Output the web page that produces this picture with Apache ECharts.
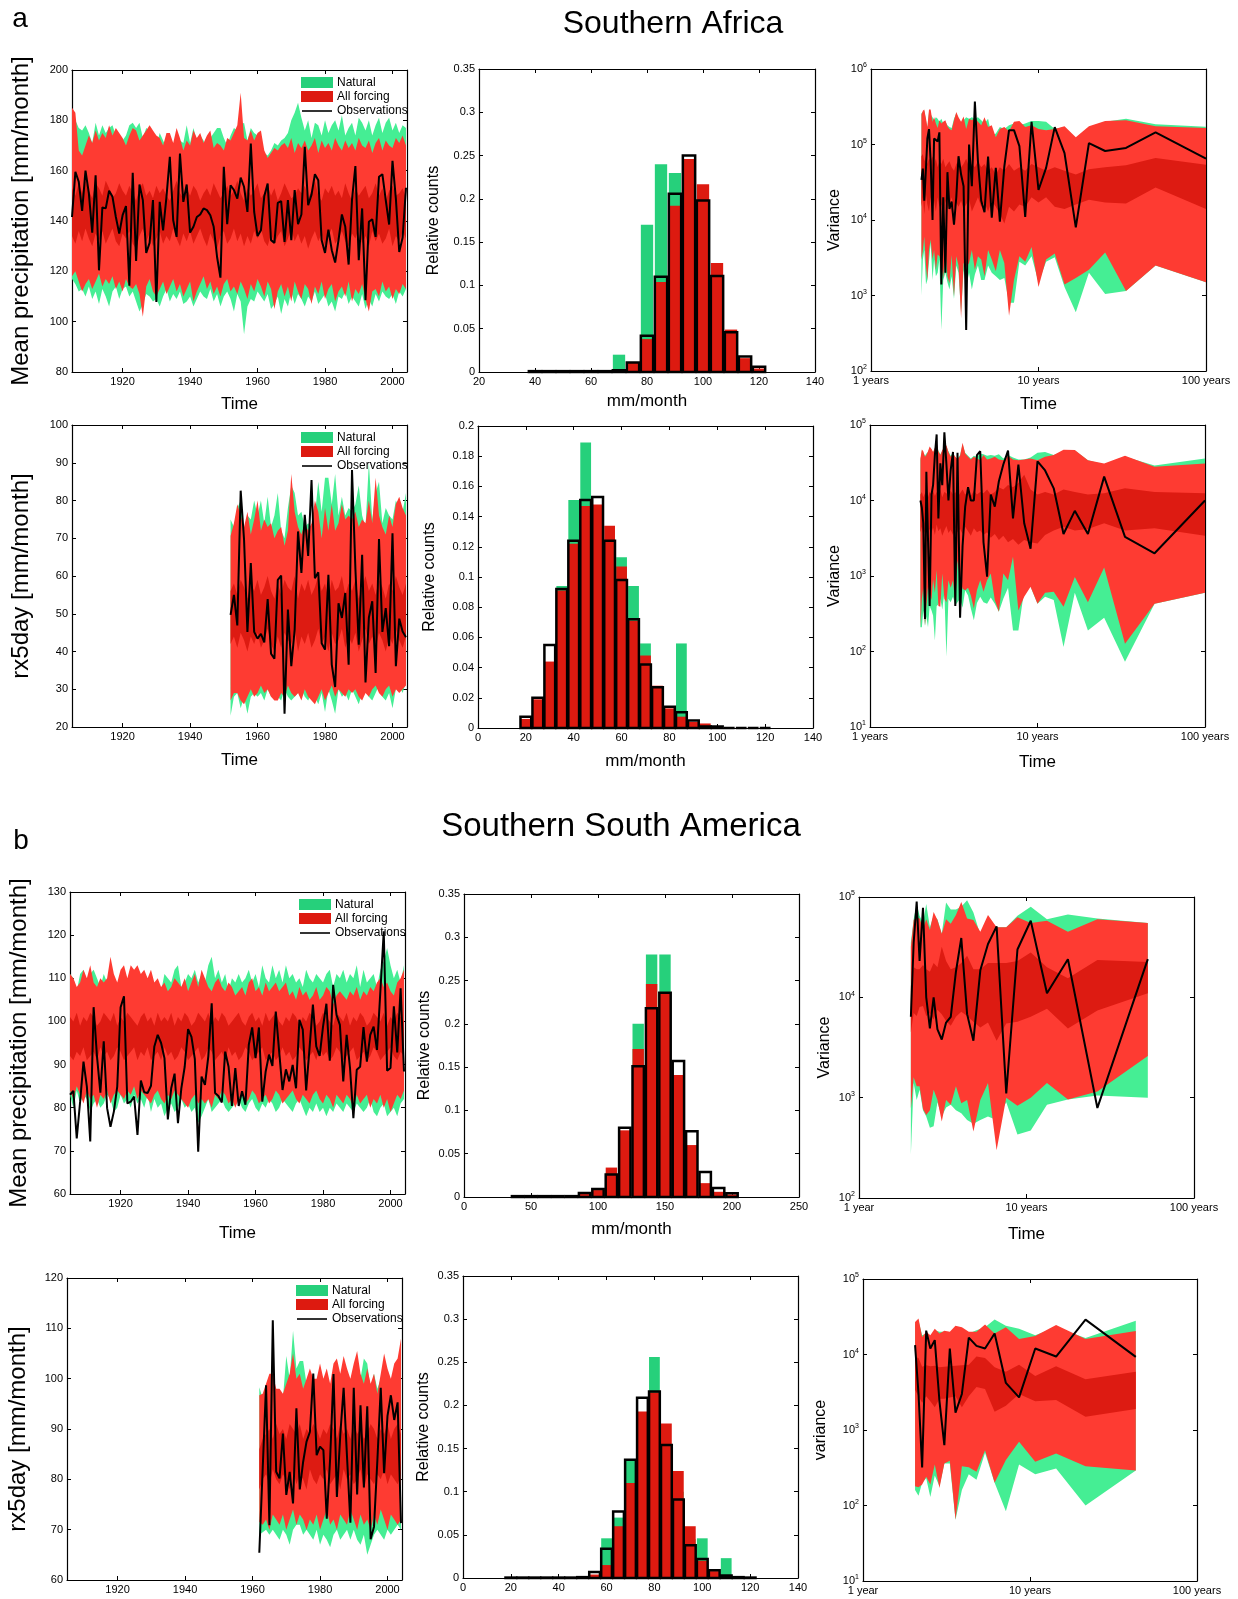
<!DOCTYPE html>
<html>
<head>
<meta charset="utf-8">
<script src="https://cdn.jsdelivr.net/npm/echarts@6/dist/echarts.min.js"></script>
<style>
  html, body { margin: 0; padding: 0; background: #fff; }
  #chart { width: 1238px; height: 1599px; }
</style>
</head>
<body>
<div id="chart"></div>
<script>
// ---------------- data ----------------
const range = (a, b) => { const r = []; for (let v = a; v <= b; v++) r.push(v); return r; };
const YEAR_TICKS = [1920, 1940, 1960, 1980, 2000];

// Southern Africa, mean precipitation (1905-2004)
const YEARS_A1 = range(1905, 2004);
const obsA1 = [141.6,159.5,155.6,144,160,151,135.4,158.2,120.4,145.4,
  145,152,149.6,141.6,135,142.3,145.9,114.3,159.2,124.1,
  154.5,148.3,127.3,131.3,148.3,107.8,147.6,136.3,149.6,165.5,
  140.3,133.7,166.8,147.6,154.5,135.4,137.7,141.6,142.6,145,
  144.3,142.3,137.7,125.7,117.5,161.5,138.7,154.2,152.3,148.9,
  157.2,153.6,143.6,170.8,143.6,134,136.3,149.9,154.9,132.4,
  131.3,147.2,147.9,131.7,148.3,132.4,152.3,138.7,142.6,169.5,
  146.3,150.5,158.6,156.2,132.4,127.3,136.6,128.4,123.5,132.4,
  142.6,137.7,122.7,148.5,161.8,124.4,145,108.5,139.7,140.7,
  133.7,157.6,158.6,148.3,138.6,163.9,148.9,127.7,133.4,153.2];
const natHiA1 = [182,180,177,176,178,175,171,179,174,178,
  175,177,178,174,170,172,174,178,179,177,
  179,173,177,176,172,170,175,172,169,173,
  170,175,172,171,178,171,177,172,174,172,
  168,173,175,177,177,173,170,174,177,176,
  178,179,172,177,175,174,172,167,166,168,
  171,170,172,173,175,180,183,187,181,176,
  180,173,179,178,174,180,175,178,180,176,
  182,174,177,179,174,181,179,176,180,174,
  178,181,175,179,181,176,179,175,178,177];
const natLoA1 = [117,115,112,113,110,114,109,112,107,113,
  110,106,112,114,109,113,114,110,112,108,
  104,107,111,110,108,109,106,110,113,108,
  111,109,112,107,108,110,106,109,112,110,
  109,113,108,111,106,110,112,109,104,111,
  108,95,106,109,108,112,110,108,111,105,
  107,110,103,109,106,112,107,111,109,106,
  110,108,112,107,109,111,106,108,104,110,
  109,112,107,110,108,106,111,105,109,106,
  111,108,112,110,109,111,107,112,110,113];
const allHiA1 = [185,183,168,166,170,174,171,176,172,175,
  173,178,174,177,175,173,170,174,177,176,
  172,174,176,178,176,174,173,170,175,175,
  171,177,173,168,172,170,176,173,175,171,
  174,176,169,171,170,168,173,172,175,178,
  191,173,172,176,172,175,176,168,165,167,
  169,168,170,171,169,173,167,171,169,172,
  168,170,173,167,172,169,171,168,173,170,
  168,172,169,171,168,173,170,169,172,167,
  171,173,168,172,170,169,173,171,174,170];
const allLoA1 = [118,120,116,112,115,117,113,116,119,114,
  117,115,118,113,116,112,117,114,113,115,
  111,102,114,117,112,110,113,116,111,114,
  117,112,115,110,113,116,108,112,115,118,
  113,116,111,114,110,115,117,112,114,111,
  116,113,109,115,112,117,114,110,116,113,
  105,112,115,110,114,108,116,112,109,115,
  113,107,114,111,116,109,113,115,108,112,
  114,110,116,108,113,111,115,109,104,112,
  113,110,116,112,114,109,113,111,115,113];
const midHiA1 = [153,150,155,151,156,152,149,155,153,150,
  156,153,149,151,155,152,150,154,151,148,
  153,155,150,152,149,154,151,153,150,148,
  152,156,151,149,153,150,154,152,148,151,
  153,150,155,152,149,151,154,150,152,156,
  151,148,153,150,152,155,149,151,154,150,
  153,148,151,155,152,149,150,153,151,154,
  149,152,156,150,148,153,151,154,150,152,
  149,155,151,148,153,150,152,154,149,151,
  155,150,153,148,152,154,150,151,153,149];
const midLoA1 = [134,131,136,132,137,133,130,135,132,136,
  131,134,137,132,130,135,133,136,131,129,
  134,137,132,135,130,133,136,131,134,132,
  137,133,130,135,132,136,131,134,137,133,
  130,135,132,129,134,136,131,133,137,132,
  135,130,134,131,136,133,137,132,130,135,
  131,134,136,130,133,137,132,135,131,134,
  129,133,136,132,135,130,134,137,131,133,
  136,132,130,135,133,137,131,134,130,136,
  132,135,131,133,137,130,134,132,136,133];

// Southern Africa, rx5day (1952-2004)
const YEARS_A4 = range(1952, 2004);
const obsA4 = [49.7,55.0,46.9,82.6,69.6,45.2,63.4,45.2,43.4,44.7,
  42.4,53.9,39.4,38.1,59.0,60.1,23.5,51.1,36.1,45.8,
  71.8,60.8,76.2,65.3,85.4,59.4,61.0,42.2,40.5,60.3,
  36.5,30.6,52.8,48.9,55.5,36.5,88.1,62.0,41.8,65.6,
  31.8,49.0,53.3,34.3,69.8,45.2,51.5,41.4,71.3,36.1,
  48.7,45.3,43.8];
const natHiA4 = [75,73,78,80,72,76,75,80,76,80,
  74,81,73,76,82,72,70,78,84,82,
  76,77,73,74,73,76,85,77,86,86,
  79,87,76,81,76,78,77,79,84,76,
  73,90,75,82,85,74,78,76,75,80,
  78,77,82];
const natLoA4 = [23,28,29,25,28,23.5,28,29,28,29,
  27,30,28,29,28,27,30,28,27,28,
  29,30,28,27,29,28,26,29,24,30,
  27,23.5,30,28,29,27,30,28,26,29,
  30,28,27,29,31,28,27,29,25,30,
  31,29,32];
const allHiA4 = [70.6,74,79,76,73,77,71,75,80,72,
  75,73,74,70,72,73,68,72,87,77,
  73,71,74,72,74,80,77,70,78,72,
  79,72,74,79,75,76,75,77,73,75,
  74,80,74,86,76,73,71,76,73,79,
  81,78,76];
const allLoA4 = [27,29,29,27,26,28,30,28,29,31,
  29,30,28,27,27,29,28,31,29,28,
  29,27,30,28,27,26,28,30,27,29,
  31,28,30,29,28,30,29,30,28,27,
  29,28,30,31,29,28,30,31,28,30,
  29,30,31];
const midHiA4 = [56,58,55,59,57,54,58,56,59,55,
  57,60,56,54,58,55,59,57,56,60,
  54,58,56,59,55,57,60,56,58,54,
  59,56,57,60,55,58,56,59,54,57,
  60,56,58,55,59,57,54,58,56,60,
  57,55,58];
const midLoA4 = [42,44,41,45,43,40,44,42,45,41,
  43,46,42,40,44,41,45,43,42,46,
  40,44,42,45,41,43,46,42,44,40,
  45,42,43,46,41,44,42,45,40,43,
  46,42,44,41,45,43,40,44,42,46,
  43,41,44];

// Southern South America, mean precipitation (1905-2004)
const YEARS_B1 = range(1905, 2004);
const obsB1 = [83.0,83.9,72.9,81.4,90.7,84.9,72.2,103.3,91.9,83.5,
  95.4,79.9,75.6,79.1,84.9,103.3,105.8,81.0,81.4,82.6,
  73.7,86.3,83.6,83.4,85.1,94.2,96.9,95.0,91.5,77.3,
  84.5,87.9,76.4,84.5,89.5,98.2,96.4,91.3,69.8,87.2,
  85.3,91.9,104.2,83.4,82.7,81.2,93.0,89.5,80.4,89.2,
  80.4,83.8,80.7,94.6,98.6,91.5,98.6,81.4,88.4,92.3,
  89.7,102.3,93.0,84.1,88.9,86.1,89.9,84.5,100.4,98.1,
  84.0,93.8,103.9,94.2,92.0,98.8,104.1,90.9,108.5,101.5,
  99.2,86.1,96.9,89.2,77.6,88.8,89.5,98.7,90.7,96.9,
  98.8,93.4,107.0,120.9,88.6,89.2,103.5,92.8,107.7,88.4];
const natHiB1 = [111,110,107,111,112,109,111,112,110,108,
  111,109,113,110,108,110,111,109,112,111,
  112,110,111,109,110,108,109,107,111,110,
  109,112,113,108,109,111,110,112,109,111,
  109,113,115,110,112,109,111,107,110,109,
  111,109,110,112,109,111,108,113,110,109,
  113,110,112,109,113,110,111,109,110,108,
  112,110,109,111,110,109,111,112,108,111,
  110,112,109,111,110,113,108,112,109,110,
  111,108,112,114,117,113,110,112,109,113];
const natLoB1 = [83,80,84,81,83,82,79,81,82,80,
  81,83,82,79,80,83,81,82,80,83,
  81,82,80,83,79,82,80,81,78,80,
  81,79,80,82,80,81,79,80,76.5,78,
  80,82,79,80,81,82,80,79,80,81,
  82,80,79,81,82,80,79,81,80,82,
  81,79,80,82,81,80,79,81,82,80,
  78,80,79,81,79,80,78,80,79,81,
  80,79,81,80,79,81,80,79,80,82,
  79,78,80,81,78,79,80,78,81,82];
const allHiB1 = [111,110,108,109,112,110,113,109,108,110,
  109,110,115,111,109,112,113,110,113,112,
  113,111,112,110,112,109,110,108,109,107,
  108,110,109,108,110,107,109,111,108,112,
  110,108,107,109,110,108,107,109,108,106,
  107,108,106,109,110,107,108,106,109,107,
  108,109,107,108,109,106,107,105,108,106,
  107,105,106,108,105,106,108,107,104,106,
  107,106,105,107,106,108,105,107,106,108,
  107,109,110,108,109,107,106,109,110,112];
const allLoB1 = [84,82,85,83,81,84,82,83,80,83,
  82,84,81,83,84,83,82,84,83,85,
  82,84,83,82,81,83,84,82,81,83,
  82,84,83,82,81,80,82,83,81,82,
  81,82,80,83,82,84,83,81,82,80,
  82,83,81,82,84,83,81,82,83,81,
  82,84,83,81,82,83,84,82,81,83,
  82,81,83,84,82,81,83,82,80,83,
  82,81,83,82,80,83,81,82,83,80,
  82,81,83,80,82,79,81,83,82,84];
const midHiB1 = [101,100,102,99,101,100,102,101,99,100,
  102,101,100,102,99,101,100,102,101,100,
  99,101,102,100,101,99,102,100,101,100,
  102,99,101,100,102,101,99,100,102,101,
  100,102,99,101,100,102,101,99,100,101,
  102,100,99,101,102,100,101,99,102,100,
  101,102,100,99,101,100,102,101,99,101,
  100,102,101,99,100,102,101,100,99,102,
  101,100,102,99,101,100,102,101,99,100,
  102,101,100,102,99,101,100,102,101,100];
const midLoB1 = [92,91,93,92,94,91,92,93,91,94,
  92,93,91,92,94,93,91,92,93,94,
  91,93,92,94,91,92,93,91,94,92,
  93,91,92,94,93,91,92,93,94,91,
  92,94,93,91,92,93,91,94,92,93,
  91,92,94,93,91,92,93,94,91,92,
  93,91,92,94,92,93,91,92,94,93,
  91,92,93,91,94,92,93,91,92,94,
  93,91,92,93,94,91,92,93,91,92,
  94,93,91,92,93,94,92,91,93,92];

// Southern South America, rx5day (1962-2004)
const YEARS_B4 = range(1962, 2004);
const obsB4 = [65.4,82,98.7,70.9,111.6,81.5,80.2,89.1,76.9,81.5,
  75.2,94.1,78.0,83.5,87.5,89.4,101.0,84.8,86.5,85.8,
  72.2,84.2,100.9,76.5,88.8,98.2,84.5,71.4,98.2,77.0,
  94.7,78.4,94.5,68.1,70.6,83.8,98.2,81.2,92.6,96.7,
  91.8,95.3,71.3];
const natHiB4 = [98.3,96,98,100,99,98,97,96,104.5,100,
  109.5,102,103.5,103.5,99,101,99,98,101,99,
  101,98,102,103,100,103,101,99,102,104,
  100,104,103,98,101,98,100,104,101,99,
  102,103,106];
const natLoB4 = [69,69.5,70,69,70,69,68,70,69,67,
  70,71,71,69,70,69,68,70,67,69,
  68,66.5,69,70,68,69,70,68,70,68,
  67,69,65,67,69,70,69,68,70,69,
  70,71,70];
const allHiB4 = [96.7,97,99,101,101,98,98,97,99,101,
  105,100,101,98,100,102,100,100,103,100,
  102,99,103,104,101,104.5,102,100,103,105.5,
  101,99,102,99,101,97,101,105,102,100,
  103,104,108];
const allLoB4 = [71.5,71,72,70,73,72,71,73,70,72,
  74,71,73,72,70,72,71,73,70,72,
  74,71,72,70,73,72,71,74,72,70,
  73,71,72,70,73,71,74,72,70,73,
  72,71,72];
const midHiB4 = [86,88,89,90,88,91,89,90,88,91,
  90,89,91,88,90,89,91,90,88,90,
  89,91,90,88,91,89,90,88,91,89,
  90,88,89,91,90,88,90,89,91,88,
  90,91,89];
const midLoB4 = [78,80,81,79,82,80,79,81,80,78,
  82,79,81,80,78,82,80,79,81,80,
  82,79,80,81,78,82,80,81,79,80,
  82,78,81,80,79,81,80,82,79,81,
  80,79,81];

// Histograms (bin centres in mm/month, relative counts)
const BINS_A2 = [40,45,50,55,60,65,70,75,80,85,90,95,100,105,110,115,120];
const natA2 = [0,0,0,0,0,0,0.020,0.008,0.170,0.240,0.230,0.200,0.090,0.030,0.008,0.002,0];
const allA2 = [0,0,0,0,0,0,0.001,0.011,0.038,0.104,0.192,0.246,0.217,0.126,0.049,0.016,0.004];
const obsA2 = [0.001,0.001,0.001,0.001,0.001,0.001,0.002,0.011,0.042,0.110,0.206,0.250,0.198,0.111,0.046,0.018,0.006];

const BINS_A5 = [20,25,30,35,40,45,50,55,60,65,70,75,80,85,90,95,100,105,110,115,120];
const natA5 = [0.005,0.018,0.043,0.094,0.151,0.189,0.140,0.120,0.113,0.094,0.056,0.025,0.010,0.056,0.003,0.002,0,0,0,0,0];
const allA5 = [0.006,0.019,0.044,0.091,0.122,0.147,0.148,0.134,0.107,0.071,0.048,0.028,0.013,0.0075,0.004,0.003,0.001,0,0,0,0];
const obsA5 = [0.0075,0.020,0.055,0.092,0.124,0.151,0.153,0.124,0.098,0.072,0.042,0.027,0.014,0.0105,0.005,0.001,0.001,0,0,0,0];

const BINS_B2 = [40,50,60,70,80,90,100,110,120,130,140,150,160,170,180,190,200];
const natB2 = [0,0,0,0,0.001,0.003,0.007,0.028,0.070,0.200,0.280,0.280,0.120,0.040,0.010,0.002,0];
const allB2 = [0,0,0,0,0.001,0.004,0.008,0.034,0.077,0.171,0.246,0.235,0.141,0.060,0.016,0.006,0.003];
const obsB2 = [0.001,0.001,0.001,0.001,0.001,0.0045,0.0093,0.026,0.080,0.151,0.218,0.236,0.157,0.076,0.029,0.0104,0.0042];

const BINS_B5 = [20,25,30,35,40,45,50,55,60,65,70,75,80,85,90,95,100,105,110,115,120];
const natB5 = [0,0,0,0,0,0,0.001,0.002,0.046,0.070,0.137,0.180,0.256,0.150,0.100,0.045,0.046,0.006,0.023,0.001,0];
const allB5 = [0,0,0,0,0,0,0.001,0.004,0.015,0.060,0.110,0.193,0.215,0.179,0.124,0.060,0.020,0.008,0.002,0,0];
const obsB5 = [0.0005,0.0005,0.0005,0.0005,0.0005,0.0005,0.001,0.007,0.034,0.077,0.137,0.209,0.216,0.154,0.091,0.038,0.022,0.009,0.003,0.001,0.0005];

// Variance spectra (period in years)
const P100 = [2,2.04,2.08,2.13,2.17,2.22,2.27,2.33,2.38,2.44,
  2.5,2.56,2.63,2.7,2.78,2.86,2.94,3.03,3.13,3.23,
  3.33,3.45,3.57,3.7,3.85,4,4.17,4.35,4.55,4.76,
  5,5.26,5.56,5.88,6.25,6.67,7.14,7.69,8.33,9.09,
  10,11.1,12.5,14.3,16.7,20,25,33.3,50,100];
const obsA3 = [3.4e4,4.8e4,1.8e4,5e4,1.2e5,1.6e5,6e4,1e4,1.2e5,1.15e5,
  1.1e5,1.45e5,1.4e3,2e4,2e3,4.3e4,1.4e4,1.75e4,8.7e3,2e4,
  7e4,4e4,2.8e4,3.5e2,1e5,2.8e4,3.7e5,6e4,1.8e4,1.27e4,
  6.9e4,1.07e4,4.9e4,9.5e3,5.1e4,1.55e5,1.55e5,9.5e4,1.1e4,2e5,
  2.5e4,4.9e4,1.7e5,7.7e4,8e3,1.04e5,8.2e4,9e4,1.45e5,6.5e4];
const natHiA3 = [2.6e5,2.7e5,2.8e5,2.1e5,1.6e5,2.7e5,2.5e5,2.3e5,2.1e5,2.3e5,
  2.2e5,2e5,2.2e5,1.9e5,2e5,1.8e5,1.7e5,1.65e5,2.2e5,2.6e5,
  2.2e5,1.9e5,2.1e5,2.3e5,2.2e5,2.3e5,2.2e5,2.3e5,2.1e5,1.9e5,
  2.2e5,1.3e5,1.4e5,1.7e5,1.6e5,1.8e5,1.9e5,1.8e5,1.9e5,2.05e5,
  2.05e5,2e5,1.6e5,1.7e5,1.2e5,1.7e5,2e5,2.2e5,1.85e5,1.72e5];
const natLoA3 = [1e3,3e3,4e3,1.4e3,1.6e3,2.8e3,5e3,1.6e3,3e3,1.8e3,
  2e3,3e3,3.5e2,1.6e3,2e3,1.5e3,1.2e3,1.8e3,9e2,2.5e3,
  2e3,6e2,2.2e3,1.3e3,2e3,1.2e3,1.9e3,2.5e3,1.6e3,1.6e3,
  2.5e3,2e3,1.8e3,1.6e3,1.7e3,8e2,8e2,2.8e3,2.5e3,3.3e3,
  1.5e3,2.8e3,3.2e3,1.3e3,6e2,2e3,1.05e3,1.15e3,2.5e3,1.5e3];
const allHiA3 = [2.5e5,2.8e5,2.9e5,2.2e5,1.7e5,2.9e5,2.9e5,2e5,2.3e5,1.9e5,
  1.65e5,2.1e5,1.9e5,2e5,2.1e5,1.75e5,1.6e5,1.55e5,2.1e5,2.7e5,
  2.3e5,2e5,2.35e5,1.6e5,2.2e5,2.1e5,2.25e5,2e5,1.8e5,2.3e5,
  1.7e5,1.8e5,1.25e5,1.6e5,1.7e5,1.5e5,2e5,2.05e5,1.7e5,1.8e5,
  1.6e5,1.55e5,1.6e5,1.75e5,1.25e5,1.75e5,2.05e5,2.1e5,1.75e5,1.65e5];
const allLoA3 = [3e3,4e3,6e3,2.5e3,1.6e3,4e3,5.5e3,3e3,4e3,2.2e3,
  3.5e3,3.3e3,2.5e3,1.7e3,4.5e3,1.8e3,1.45e3,3.45e3,9.7e2,3.3e3,
  2.5e3,5e2,2.7e3,2.4e3,2.7e3,4e3,2.2e3,3.3e3,3e3,1.8e3,
  4e3,3e3,2.1e3,4e3,2.7e3,5.4e2,1.6e3,3.3e3,2.8e3,4.4e3,
  1.3e3,3e3,3.6e3,1.4e3,1.7e3,2.2e3,3.7e3,1.15e3,2.5e3,1.5e3];
const midHiA3 = [7e4,7.5e4,6e4,7e4,5.5e4,6.5e4,6e4,7e4,5.5e4,6.5e4,
  5e4,6e4,5.5e4,6.5e4,5e4,5.5e4,6e4,5e4,4.5e4,5.5e4,
  6e4,5e4,5.5e4,6.5e4,5e4,5.5e4,5e4,6e4,5e4,5.5e4,
  4.5e4,5e4,4e4,5e4,4.5e4,5.5e4,4.5e4,5e4,4.5e4,5.5e4,
  5e4,4.5e4,5e4,4.5e4,4e4,4.7e4,5e4,5.3e4,6.6e4,5.4e4];
const midLoA3 = [1.5e4,2e4,1.2e4,2.2e4,1.6e4,1.3e4,2e4,1.5e4,1.8e4,1.3e4,
  2e4,1.5e4,1.6e4,1.2e4,1.8e4,1.4e4,1.6e4,2e4,1.4e4,1.7e4,
  1.5e4,1.8e4,1.4e4,1.6e4,1.9e4,1.3e4,1.6e4,2e4,1.5e4,1.7e4,
  1.3e4,1.8e4,1.5e4,1.2e4,9e3,1.5e4,1.3e4,1.6e4,1.5e4,2e4,
  1.7e4,2e4,1.5e4,1.4e4,1.6e4,1.85e4,1.7e4,1.65e4,2.7e4,1.4e4];

const obsA6 = [1e4,8e3,5e3,2.7e2,2.4e4,2.5e4,4e2,1.2e4,1.6e4,4e4,
  7.5e4,5.8e3,3.1e4,1.6e4,8e4,3e4,1e4,2.5e4,4.4e4,4e2,
  4.3e4,2.8e2,2.5e3,8.3e3,1.5e4,1e4,1e4,4e4,4.5e4,2.8e3,
  9.8e2,1.2e4,8.3e3,1.8e4,3e4,4.6e4,5.8e3,3e4,5e3,2.3e3,
  3.3e4,2.5e4,1.45e4,3.6e3,7.3e3,3.6e3,2.07e4,3.3e3,2e3,1e4];
const natHiA6 = [3.4e4,4.6e4,4.3e4,3.9e4,4.2e4,4.4e4,5e4,4.7e4,4.3e4,4.9e4,
  5.7e4,4.6e4,4.1e4,4.5e4,4.9e4,5.2e4,4.5e4,3.9e4,4.3e4,3.7e4,
  3.6e4,4e4,5.5e4,4.3e4,3.9e4,3.6e4,3.9e4,3.8e4,4.2e4,4.1e4,
  3.9e4,4e4,3.9e4,4.1e4,3.6e4,4e4,3.7e4,3.5e4,3.5e4,3.7e4,
  4.3e4,4.4e4,4e4,4.5e4,4.6e4,3.4e4,3e4,3.8e4,2.9e4,3.6e4];
const natLoA6 = [2.1e2,2.1e2,3.5e2,2.2e2,2.9e2,2.1e2,4e2,3.5e2,3e2,1.4e2,
  4e2,4.2e2,5e2,3.6e2,6e2,8.5e1,5e2,4.5e2,5.3e2,4.1e2,
  4.5e2,5e2,3.8e2,6.5e2,5.5e2,3.7e2,2.6e2,4.4e2,5.3e2,4.5e2,
  4.3e2,5.2e2,4.3e2,3.35e2,5e2,7e2,1.9e2,1.9e2,6.5e2,7.2e2,
  4.3e2,5.3e2,4.8e2,1.15e2,6e2,1.9e2,2.8e2,7.3e1,4.3e2,6e2];
const allHiA6 = [3.6e4,4.75e4,4.5e4,3.8e4,4e4,4.5e4,5.2e4,4.8e4,4.4e4,5e4,
  6e4,4.5e4,4e4,4.65e4,5e4,5.4e4,4.4e4,3.8e4,4.2e4,3.8e4,
  3.5e4,3.9e4,5.8e4,4.2e4,3.8e4,3.5e4,3.8e4,3.6e4,3.4e4,4e4,
  3.5e4,3.6e4,3.8e4,3.5e4,3.4e4,3.9e4,3.5e4,3.4e4,3.5e4,3.6e4,
  3.4e4,3.8e4,4e4,4.7e4,4.65e4,3.4e4,3.1e4,3.9e4,2.8e4,3.1e4];
const allLoA6 = [2.1e2,5e2,7e2,2.2e2,4e2,7.2e2,6e2,4.8e2,9e2,6e2,
  1.2e3,4e2,3.9e2,1.08e3,5e2,4.5e2,8.8e2,7e2,8.8e2,4.1e2,
  1.6e3,9e2,6.8e2,6.5e2,7e2,5.5e2,3.7e2,6.5e2,8.8e2,6.2e2,
  8.8e2,1.08e3,4.8e2,3.35e2,1.08e3,8.8e2,1.8e3,3.5e2,5.3e2,7.2e2,
  4.3e2,6e2,6.2e2,3.9e2,9.7e2,4.5e2,1.3e3,1.27e2,4.3e2,6e2];
const midHiA6 = [1.2e4,1.3e4,1.1e4,1.25e4,1.4e4,1.1e4,1.3e4,1.2e4,1.35e4,1.15e4,
  1.3e4,1.2e4,1.4e4,1.1e4,1.3e4,1.25e4,1.15e4,1.35e4,1.2e4,1.3e4,
  1.1e4,1.25e4,1.4e4,1.2e4,1.3e4,1.15e4,1.35e4,1.2e4,1.3e4,1.25e4,
  1.4e4,1.2e4,1.3e4,1.5e4,1.4e4,1.6e4,1.5e4,1.7e4,2.2e4,1.4e4,
  1.2e4,1.3e4,1.2e4,1.4e4,1.3e4,1.2e4,1.25e4,1.45e4,1.3e4,1.25e4];
const midLoA6 = [3.8e3,4.5e3,3.5e3,4e3,4.6e3,3.6e3,4.2e3,3.8e3,4.4e3,3.5e3,
  4.8e3,3.9e3,4.3e3,3.4e3,4e3,4.6e3,3.7e3,4.1e3,3.5e3,4.4e3,
  3.8e3,4.2e3,3.6e3,4.5e3,3.9e3,3.4e3,4.3e3,3.8e3,4e3,3.5e3,
  3.8e3,3.2e3,3.6e3,3e3,3.4e3,2.8e3,3.1e3,2.6e3,3e3,2.8e3,
  2.7e3,3.5e3,4e3,4.5e3,4e3,4.2e3,5e3,4e3,4.3e3,3.4e3];

const P53 = [2.04,2.12,2.21,2.3,2.41,2.52,2.65,2.79,2.94,3.12,
  3.31,3.53,3.79,4.08,4.42,4.82,5.3,5.89,6.63,7.57,
  8.83,10.6,13.25,17.67,26.5,53];
const obsB3 = [6.4e3,3.5e4,9e4,2.3e4,7.8e4,1e4,4.9e3,1e4,4.8e3,3.8e3,
  5.6e3,6.4e3,1.8e4,3.9e4,6.8e3,3.7e3,1.86e4,3.4e4,5.1e4,1.1e3,
  3e4,5.8e4,1.1e4,2.4e4,7.9e2,2.4e4];
const natHiB3 = [3.5e4,6e4,8.5e4,6.5e4,5.5e4,8.5e4,5e4,6.5e4,6e4,4.3e4,
  8.8e4,7.5e4,7.5e4,8e4,9.3e4,7e4,4.2e4,5.5e4,5e4,5e4,
  6.5e4,8e4,6e4,6.7e4,6.1e4,5.5e4];
const natLoB3 = [2.7e2,1.4e3,9.5e2,1.2e3,7.5e2,6.5e2,5e2,5.2e2,9e2,6.5e2,
  8e2,8.5e2,7.5e2,7e2,6e2,5.5e2,6e2,6.5e2,6e2,9e2,
  4.3e2,4.7e2,8.5e2,9.6e2,1.05e3,1e3];
const allHiB3 = [3.2e4,5.9e4,6.3e4,6.1e4,4.8e4,6e4,4.7e4,7.1e4,5.9e4,4.3e4,
  6e4,5.4e4,6.6e4,8.9e4,6.1e4,5.9e4,4.5e4,6.6e4,5e4,5e4,
  6.3e4,5.5e4,5.8e4,4.5e4,6e4,5.5e4];
const allLoB3 = [7.8e2,1.6e3,1.3e3,1.3e3,7.7e2,6.7e2,7.5e2,1.2e3,9.5e2,5.8e2,
  9.5e2,8.5e2,1.3e3,8.8e2,9.5e2,4.6e2,9.5e2,1.4e3,3e2,1e3,
  8.3e2,1e3,1.4e3,9.6e2,1.15e3,2.6e3];
const midHiB3 = [1.3e4,2e4,1.9e4,1.9e4,2.1e4,1.9e4,1.8e4,2.2e4,2e4,3.2e4,
  2.3e4,1.9e4,2e4,2.2e4,2.6e4,1.9e4,1.9e4,2.2e4,2.2e4,2.2e4,
  2.3e4,2.8e4,2e4,1.55e4,2.35e4,2.25e4];
const midLoB3 = [4.5e3,7e3,6.5e3,8e3,8.2e3,6.5e3,7e3,6e3,7.5e3,6.8e3,
  5.8e3,5.2e3,6.4e3,7.2e3,6.5e3,5.7e3,5e3,5.6e3,3.7e3,5.5e3,
  5.7e3,6.4e3,7.7e3,4.9e3,7.4e3,1.1e4];

const P43 = [2.05,2.15,2.26,2.39,2.53,2.69,2.87,3.07,3.31,3.58,
  3.91,4.3,4.78,5.38,6.14,7.17,8.6,10.75,14.33,21.5,43];
const obsB6 = [1.33e4,3e3,3.2e2,2.07e4,1.2e4,1.55e4,2.4e3,6.3e2,1.2e4,1.7e3,
  3e3,1.67e4,1.3e4,1.2e4,1.9e4,4.2e3,2.7e3,1.2e4,9.4e3,2.9e4,9.3e3];
const natHiB6 = [2.5e4,2.8e4,1.8e4,1.9e4,1.7e4,2.1e4,2e4,2e4,1.9e4,2.2e4,
  2.2e4,1.9e4,2.1e4,2.3e4,2.9e4,2.4e4,2.2e4,1.8e4,2.3e4,1.65e4,2.8e4];
const natLoB6 = [1.6e2,1.35e2,2e2,2.3e2,1.3e2,2.5e2,1.8e2,3.6e2,3.6e2,6.5e1,
  1.6e2,2.6e2,2.2e2,5e2,2e2,8.4e1,3.5e2,2.6e2,3.1e2,1e2,2.9e2];
const allHiB6 = [2.7e4,3e4,1.7e4,2e4,1.8e4,2.2e4,1.9e4,2.07e4,2e4,2.4e4,
  2.3e4,2e4,2e4,2.5e4,1.9e4,2.3e4,1.6e4,1.76e4,2.45e4,1.6e4,2.05e4];
const allLoB6 = [1.8e2,1.75e2,1.9e2,2.4e2,1.9e2,3.5e2,1.7e2,3.6e2,3.9e2,6.5e1,
  3.3e2,3.2e2,2.8e2,5.4e2,2e2,4e2,7e2,3.8e2,4.9e2,3.3e2,2.9e2];
const midHiB6 = [9.3e3,9e3,6.9e3,7.2e3,7e3,7.1e3,6.8e3,6.9e3,7e3,7.1e3,
  7.2e3,7.3e3,9.4e3,9e3,6.8e3,5.9e3,7.3e3,5.2e3,7e3,4.7e3,5.9e3];
const midLoB6 = [3.4e3,2.8e3,2.3e3,2.8e3,2.4e3,2e3,2.6e3,2.6e3,2.7e3,2.8e3,
  2e3,2.8e3,3.7e3,3.5e3,1.75e3,2.1e3,3e3,2.4e3,2.5e3,1.5e3,1.9e3];

// ---------------- styling ----------------
const FONT = '"Liberation Sans", Arial, Helvetica, sans-serif';
const COL = {
  natBand: '#45EE94', allBand: '#FE3B32', allMid: '#DD1B12',
  natBar: '#26D07B', allBar: '#DD1A10', obs: '#000'
};

const grids = [], xAxes = [], yAxes = [], series = [], graphics = [];

function axisPair(gi, dim, s) {
  const tick = { show: true, inside: true, length: 4, lineStyle: { color: '#000', width: 1 } };
  if (s.ticks) tick.customValues = s.ticks;
  const base = {
    gridIndex: gi, type: s.type || 'value', min: s.min, max: s.max,
    splitLine: { show: false },
    axisLine: { show: true, onZero: false, lineStyle: { color: '#000', width: 1.2 } },
    axisTick: tick
  };
  if (s.type === 'log') base.logBase = 10;
  if (s.interval != null) base.interval = s.interval;
  const label = { show: true, color: '#000', fontFamily: FONT, fontSize: 11, margin: 4 };
  if (s.ticks) label.customValues = s.ticks;
  if (s.formatter) label.formatter = s.formatter;
  if (s.rich) label.rich = s.rich;
  const main = Object.assign({}, base, { position: dim === 'x' ? 'bottom' : 'left', axisLabel: label });
  if (s.name) {
    Object.assign(main, {
      name: s.name, nameLocation: 'middle', nameGap: s.nameGap,
      nameTextStyle: { color: '#000', fontFamily: FONT, fontSize: s.nameSize }
    });
  }
  const mirror = Object.assign({}, base, { position: dim === 'x' ? 'top' : 'right', axisLabel: { show: false } });
  return [main, mirror];
}

function panel(rect, xs, ys) {
  const gi = grids.length;
  grids.push({ left: rect[0], top: rect[1], width: rect[2], height: rect[3] });
  xAxes.push(...axisPair(gi, 'x', xs));
  yAxes.push(...axisPair(gi, 'y', ys));
  return gi;
}

// shaded envelope between two curves, drawn as one polygon through the axes
function band(gi, xs, lo, hi, color) {
  return {
    type: 'custom', xAxisIndex: gi * 2, yAxisIndex: gi * 2, clip: true, silent: true,
    data: xs.map((x, i) => [x, lo[i], hi[i]]),
    renderItem(params, api) {
      if (params.dataIndex !== 0) return;
      const pts = [];
      for (let i = 0; i < xs.length; i++) pts.push(api.coord([xs[i], hi[i]]));
      for (let i = xs.length - 1; i >= 0; i--) pts.push(api.coord([xs[i], lo[i]]));
      return { type: 'polygon', shape: { points: pts }, style: { fill: color } };
    }
  };
}

function obsLine(gi, xs, ys) {
  return {
    type: 'line', xAxisIndex: gi * 2, yAxisIndex: gi * 2, silent: true,
    data: xs.map((x, i) => [x, ys[i]]), showSymbol: false, symbol: 'none',
    lineStyle: { color: COL.obs, width: 2 }, z: 5
  };
}

function bars(gi, centres, vals, w, style, z) {
  return {
    type: 'custom', xAxisIndex: gi * 2, yAxisIndex: gi * 2, clip: false, silent: true, z,
    data: centres.map((c, i) => [c, vals[i]]),
    renderItem(params, api) {
      const c = api.value(0), v = api.value(1);
      const a = api.coord([c - w / 2, v]);
      const b = api.coord([c + w / 2, 0]);
      return { type: 'rect', shape: { x: a[0], y: a[1], width: b[0] - a[0], height: b[1] - a[1] }, style };
    }
  };
}

function timePanel(gi, xs, d) {
  series.push(band(gi, xs, d.natLo, d.natHi, COL.natBand));
  series.push(band(gi, xs, d.allLo, d.allHi, COL.allBand));
  series.push(band(gi, xs, d.midLo, d.midHi, COL.allMid));
  series.push(obsLine(gi, xs, d.obs));
}

function histPanel(gi, bins, nat, all, obs, w) {
  series.push(bars(gi, bins, nat, w, { fill: COL.natBar }, 2));
  series.push(bars(gi, bins, all, w, { fill: COL.allBar }, 3));
  series.push(bars(gi, bins, obs, w, { fill: 'transparent', stroke: '#000', lineWidth: 2.5 }, 4));
}

function text(x, y, str, size, align) {
  return {
    type: 'text', x, y, z: 100, silent: true,
    style: {
      text: str, fontSize: size, fontFamily: FONT, fill: '#000',
      align: align || 'center', verticalAlign: 'middle',
      textAlign: align || 'center', textVerticalAlign: 'middle'
    }
  };
}

function legend(left, top) {
  const x0 = left + 229, tx = left + 265;
  graphics.push(
    { type: 'rect', z: 100, silent: true, shape: { x: x0, y: top + 7, width: 32, height: 11 }, style: { fill: COL.natBar } },
    { type: 'rect', z: 100, silent: true, shape: { x: x0, y: top + 21, width: 32, height: 11 }, style: { fill: COL.allBar } },
    { type: 'line', z: 100, silent: true, shape: { x1: x0 + 1, y1: top + 41, x2: x0 + 31, y2: top + 41 }, style: { stroke: '#000', lineWidth: 1.6 } },
    text(tx, top + 12.5, 'Natural', 12, 'left'),
    text(tx, top + 26.5, 'All forcing', 12, 'left'),
    text(tx, top + 41, 'Observations', 12, 'left')
  );
}

const powLabel = v => '10{s|' + Math.round(Math.log10(v)) + '}';
const powRich = { s: { fontSize: 7, fontFamily: FONT, color: '#000', verticalAlign: 'top', padding: [0, 0, 7, 0] } };
const yearsA = v => { const n = Math.round(v); return n === 1 ? '1 years' : n + ' years'; };
const yearsB = v => { const n = Math.round(v); return n === 1 ? '1 year' : n + ' years'; };
const plainYear = v => String(Math.round(v));
const timeX = { min: 1905, max: 2004.3, ticks: YEAR_TICKS, formatter: plainYear };

// ---------------- panels ----------------
// a: Southern Africa
let g = panel([72, 70, 335, 302],
  Object.assign({ name: 'Time', nameGap: 24, nameSize: 17 }, timeX),
  { min: 80, max: 200, interval: 20, name: 'Mean precipitation [mm/month]', nameGap: 39, nameSize: 24 });
timePanel(g, YEARS_A1, { natLo: natLoA1, natHi: natHiA1, allLo: allLoA1, allHi: allHiA1, midLo: midLoA1, midHi: midHiA1, obs: obsA1 });
legend(72, 70);

g = panel([479, 69, 336, 303],
  { min: 20, max: 140, interval: 20, name: 'mm/month', nameGap: 21, nameSize: 17 },
  { min: 0, max: 0.35, interval: 0.05, name: 'Relative counts', nameGap: 37, nameSize: 16 });
histPanel(g, BINS_A2, natA2, allA2, obsA2, 4.4);

g = panel([871, 69, 335, 302],
  { type: 'log', min: 1, max: 100, formatter: yearsA, name: 'Time', nameGap: 25, nameSize: 17 },
  { type: 'log', min: 1e2, max: 1e6, formatter: powLabel, rich: powRich, name: 'Variance', nameGap: 28, nameSize: 16 });
timePanel(g, P100, { natLo: natLoA3, natHi: natHiA3, allLo: allLoA3, allHi: allHiA3, midLo: midLoA3, midHi: midHiA3, obs: obsA3 });

g = panel([72, 425, 335, 302],
  Object.assign({ name: 'Time', nameGap: 25, nameSize: 17 }, timeX),
  { min: 20, max: 100, interval: 10, name: 'rx5day [mm/month]', nameGap: 39, nameSize: 24 });
timePanel(g, YEARS_A4, { natLo: natLoA4, natHi: natHiA4, allLo: allLoA4, allHi: allHiA4, midLo: midLoA4, midHi: midHiA4, obs: obsA4 });
legend(72, 425);

g = panel([478, 426, 335, 302],
  { min: 0, max: 140, interval: 20, name: 'mm/month', nameGap: 25, nameSize: 17 },
  { min: 0, max: 0.2, interval: 0.02, name: 'Relative counts', nameGap: 40, nameSize: 16 });
histPanel(g, BINS_A5, natA5, allA5, obsA5, 4.5);

g = panel([870, 425, 335, 302],
  { type: 'log', min: 1, max: 100, formatter: yearsA, name: 'Time', nameGap: 27, nameSize: 17 },
  { type: 'log', min: 1e1, max: 1e5, formatter: powLabel, rich: powRich, name: 'Variance', nameGap: 27, nameSize: 16 });
timePanel(g, P100, { natLo: natLoA6, natHi: natHiA6, allLo: allLoA6, allHi: allHiA6, midLo: midLoA6, midHi: midHiA6, obs: obsA6 });

// b: Southern South America
g = panel([70, 892, 335, 302],
  Object.assign({ name: 'Time', nameGap: 31, nameSize: 17 }, timeX),
  { min: 60, max: 130, interval: 10, name: 'Mean precipitation [mm/month]', nameGap: 39, nameSize: 24 });
timePanel(g, YEARS_B1, { natLo: natLoB1, natHi: natHiB1, allLo: allLoB1, allHi: allHiB1, midLo: midLoB1, midHi: midHiB1, obs: obsB1 });
legend(70, 892);

g = panel([464, 894, 335, 303],
  { min: 0, max: 250, interval: 50, name: 'mm/month', nameGap: 24, nameSize: 17 },
  { min: 0, max: 0.35, interval: 0.05, name: 'Relative counts', nameGap: 31, nameSize: 16 });
histPanel(g, BINS_B2, natB2, allB2, obsB2, 8.5);

g = panel([859, 897, 335, 301],
  { type: 'log', min: 1, max: 100, formatter: yearsB, name: 'Time', nameGap: 28, nameSize: 17 },
  { type: 'log', min: 1e2, max: 1e5, formatter: powLabel, rich: powRich, name: 'Variance', nameGap: 26, nameSize: 16 });
timePanel(g, P53, { natLo: natLoB3, natHi: natHiB3, allLo: allLoB3, allHi: allHiB3, midLo: midLoB3, midHi: midHiB3, obs: obsB3 });

g = panel([67, 1278, 335, 302],
  timeX,
  { min: 60, max: 120, interval: 10, name: 'rx5day [mm/month]', nameGap: 37, nameSize: 24 });
timePanel(g, YEARS_B4, { natLo: natLoB4, natHi: natHiB4, allLo: allLoB4, allHi: allHiB4, midLo: midLoB4, midHi: midHiB4, obs: obsB4 });
legend(67, 1278);

g = panel([463, 1276, 335, 302],
  { min: 0, max: 140, interval: 20 },
  { min: 0, max: 0.35, interval: 0.05, name: 'Relative counts', nameGap: 31, nameSize: 16 });
histPanel(g, BINS_B5, natB5, allB5, obsB5, 4.5);

g = panel([863, 1279, 334, 302],
  { type: 'log', min: 1, max: 100, formatter: yearsB },
  { type: 'log', min: 1e1, max: 1e5, formatter: powLabel, rich: powRich, name: 'variance', nameGap: 34, nameSize: 16 });
timePanel(g, P43, { natLo: natLoB6, natHi: natHiB6, allLo: allLoB6, allHi: allHiB6, midLo: midLoB6, midHi: midHiB6, obs: obsB6 });

// headings
graphics.push(
  text(20, 19, 'a', 28),
  text(673, 24, 'Southern Africa', 32),
  text(21, 841, 'b', 28),
  text(621, 827, 'Southern South America', 33)
);

const chart = echarts.init(document.getElementById('chart'), null, { renderer: 'canvas', width: 1238, height: 1599 });
chart.setOption({
  animation: false,
  backgroundColor: '#fff',
  textStyle: { fontFamily: FONT },
  grid: grids,
  xAxis: xAxes,
  yAxis: yAxes,
  series,
  graphic: { elements: graphics }
});
</script>
</body>
</html>
